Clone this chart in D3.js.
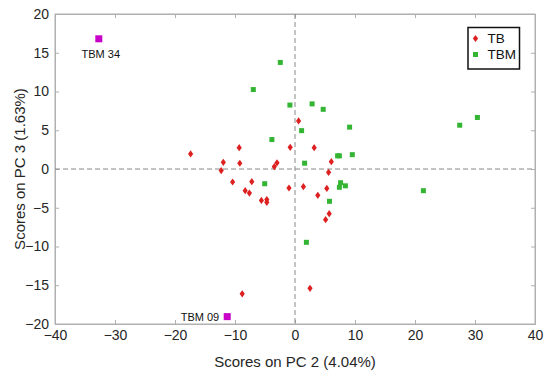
<!DOCTYPE html>
<html><head><meta charset="utf-8">
<script src="https://cdn.jsdelivr.net/npm/d3@7/dist/d3.min.js"></script>
<style>body{margin:0;background:#fff;} svg{display:block;font-family:Arial,"Liberation Sans",sans-serif;}</style>
</head><body>
<svg id="c" width="550" height="374"></svg>
<script>
const tbX = [0.6,-9.3,-0.8,3.2,-17.4,-11.95,-9.2,-3.0,-3.45,6.05,-12.3,5.6,-10.4,-7.2,-1.0,1.4,5.3,-8.3,-7.6,3.8,-5.6,-4.7,-4.7,5.7,5.1,2.5,-8.8];
const tbY = [6.2,2.75,2.8,2.75,1.95,0.86,0.74,0.8,0.3,0.95,-0.2,-0.43,-1.68,-1.64,-2.45,-2.28,-2.5,-2.8,-3.1,-3.4,-4.06,-3.94,-4.3,-5.77,-6.54,-15.4,-16.1];
const tbmX = [-2.45,-6.95,-0.85,2.85,4.7,1.1,9.1,27.45,30.4,-3.85,7.1,7.4,9.55,1.6,-5.05,7.6,8.4,7.4,21.4,5.75,1.9];
const tbmY = [13.75,10.25,8.25,8.4,7.7,4.95,5.4,5.65,6.65,3.8,1.7,1.7,1.85,0.75,-1.9,-1.77,-2.17,-2.36,-2.8,-4.17,-9.46];
const outNames = ["TBM 34","TBM 09"];
const outX = [-32.7,-11.3];
const outY = [16.8,-19.05];
const xTicks = [-40,-30,-20,-10,0,10,20,30,40];
const yTicks = [-20,-15,-10,-5,0,5,10,15,20];
const legendLabels = ["TB","TBM"];

const svg = d3.select("#c");
const L=55,R=535,T=14,B=324;
const x = d3.scaleLinear().domain([-40,40]).range([L,R]);
const y = d3.scaleLinear().domain([-20,20]).range([B,T]);
const axisCol="#b0b0b0", txtCol="#262626";

svg.append("rect").attr("x",L).attr("y",T).attr("width",R-L).attr("height",B-T)
  .attr("fill","none").attr("stroke",axisCol).attr("stroke-width",1);

const ax = svg.append("g").attr("transform",`translate(0,${B})`)
  .call(d3.axisBottom(x).tickValues(xTicks).tickSize(-4).tickPadding(8).tickFormat(d3.format("d")));
const ay = svg.append("g").attr("transform",`translate(${L},0)`)
  .call(d3.axisLeft(y).tickValues(yTicks).tickSize(-4).tickPadding(6).tickFormat(d3.format("d")));
svg.append("g").attr("transform",`translate(0,${T})`)
  .call(d3.axisTop(x).tickValues(xTicks).tickSize(-4).tickFormat(""));
svg.append("g").attr("transform",`translate(${R},0)`)
  .call(d3.axisRight(y).tickValues(yTicks).tickSize(-4).tickFormat(""));
svg.selectAll(".domain").attr("stroke",axisCol);
svg.selectAll(".tick line").attr("stroke",axisCol);
svg.selectAll(".tick text").attr("fill",txtCol).style("font-size","14px").style("font-family","Arial,'Liberation Sans',sans-serif");
ax.selectAll(".tick text").attr("dy","0.55em");

svg.append("line").attr("x1",L).attr("x2",R).attr("y1",y(0)).attr("y2",y(0))
  .attr("stroke","#888").attr("stroke-dasharray","5,3").attr("stroke-width",1);
svg.append("line").attr("x1",x(0)).attr("x2",x(0)).attr("y1",T).attr("y2",B)
  .attr("stroke","#888").attr("stroke-dasharray","5,3").attr("stroke-width",1);

const red="#dd2020", green="#33b533", mag="#c800c8";
const diamond = (cx,cy)=>`M${cx},${cy-3.6}L${cx+2.6},${cy}L${cx},${cy+3.6}L${cx-2.6},${cy}Z`;

svg.append("g").selectAll("rect").data(tbmX.map((v,i)=>[v,tbmY[i]])).join("rect")
  .attr("x",d=>x(d[0])-2.5).attr("y",d=>y(d[1])-2.5).attr("width",5).attr("height",5)
  .attr("fill",green);
svg.append("g").selectAll("path").data(tbX.map((v,i)=>[v,tbY[i]])).join("path")
  .attr("d",d=>diamond(x(d[0]),y(d[1]))).attr("fill",red);

svg.append("g").selectAll("rect").data(outX.map((v,i)=>[v,outY[i]])).join("rect")
  .attr("x",d=>x(d[0])-3.5).attr("y",d=>y(d[1])-3.5).attr("width",7).attr("height",7)
  .attr("fill",mag);
svg.append("text").attr("x",x(outX[0])+2).attr("y",y(outY[0])+19).attr("text-anchor","middle")
  .attr("fill","#111").style("font-size","11px").text(outNames[0]);
svg.append("text").attr("x",x(outX[1])-8).attr("y",y(outY[1])+4).attr("text-anchor","end")
  .attr("fill","#111").style("font-size","11px").text(outNames[1]);

svg.append("text").attr("x",x(0)).attr("y",367).attr("text-anchor","middle")
  .attr("fill",txtCol).style("font-size","15px").text("Scores on PC 2 (4.04%)");
svg.append("text").attr("transform",`translate(25,${y(0)}) rotate(-90)`).attr("text-anchor","middle")
  .attr("fill",txtCol).style("font-size","15px").text("Scores on PC 3 (1.63%)");

const lg = svg.append("g");
lg.append("rect").attr("x",468).attr("y",27.5).attr("width",51.5).attr("height",41.5)
  .attr("fill","#fff").attr("stroke","#111").attr("stroke-width",1.5);
lg.append("path").attr("d",diamond(475.5,38.5)).attr("fill",red);
lg.append("rect").attr("x",473).attr("y",52).attr("width",5).attr("height",5).attr("fill",green);
legendLabels.forEach((t,i)=>{
  lg.append("text").attr("x",487.5).attr("y",38.5+16*i).attr("dy","0.35em")
    .attr("fill","#111").style("font-size","13.5px").text(t);
});
</script>
</body></html>
